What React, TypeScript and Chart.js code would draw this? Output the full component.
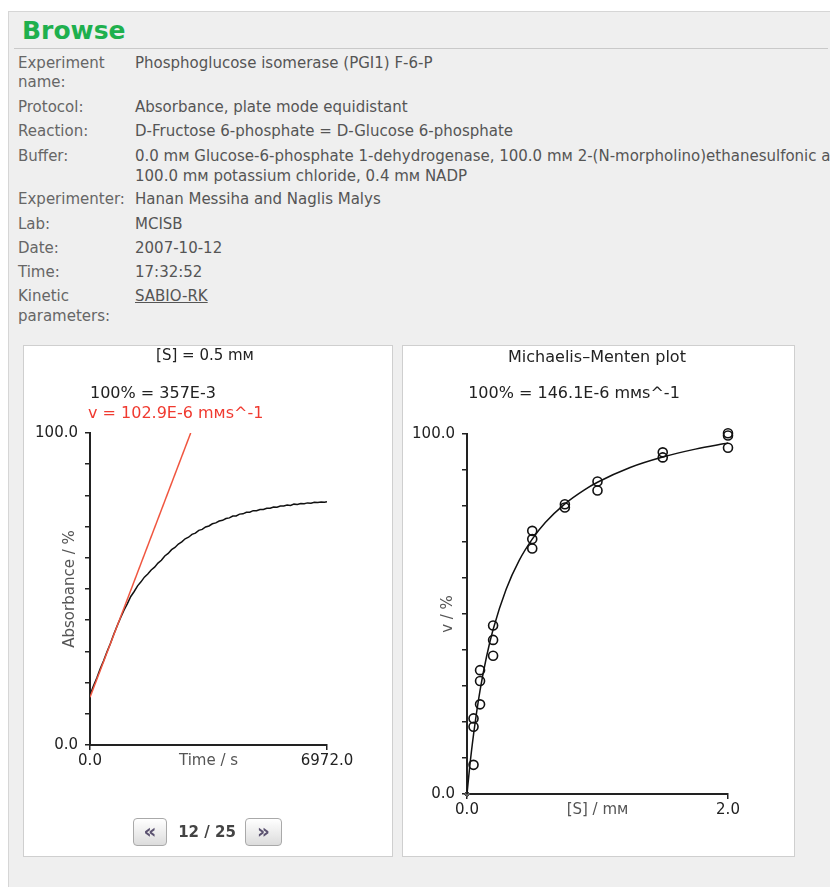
import React, { useEffect, useRef } from "react";
import { Chart, registerables } from "chart.js";

Chart.register(...registerables);

// ---------- data: progress curve (left) ----------
const timeSeconds = [
  0, 100, 200, 300, 400, 500, 600, 700, 800, 900,
  1000, 1100, 1200, 1300, 1400, 1500, 1600, 1700, 1800, 1900,
  2000, 2100, 2200, 2300, 2400, 2500, 2600, 2700, 2800, 2900,
  3000, 3100, 3200, 3300, 3400, 3500, 3600, 3700, 3800, 3900,
  4000, 4100, 4200, 4300, 4400, 4500, 4600, 4700, 4800, 4900,
  5000, 5100, 5200, 5300, 5400, 5500, 5600, 5700, 5800, 5900,
  6000, 6100, 6200, 6300, 6400, 6500, 6600, 6700, 6800, 6900, 6972,
];
const absorbancePct = [
  16.0, 18.9, 21.5, 24.4, 27.0, 29.9, 32.5, 35.5, 38.2, 40.8,
  43.2, 45.3, 47.6, 49.2, 51.0, 52.3, 53.8, 54.8, 56.1, 57.0,
  58.3, 59.2, 60.6, 61.4, 62.6, 63.3, 64.4, 65.1, 66.1, 66.6,
  67.5, 67.9, 68.8, 69.1, 69.9, 70.2, 70.9, 71.2, 71.8, 72.0,
  72.6, 72.8, 73.4, 73.4, 74.0, 74.1, 74.6, 74.6, 75.1, 75.1,
  75.5, 75.5, 75.9, 75.9, 76.3, 76.2, 76.6, 76.6, 76.9, 76.8,
  77.2, 77.1, 77.4, 77.3, 77.6, 77.5, 77.8, 77.7, 77.9, 77.8, 78.0,
];
const tangentTime = [0, 2962];
const tangentPct = [15.3, 100.0];
const progressXTicks = [0, 6972];

// ---------- data: Michaelis-Menten (right) ----------
const substrateMM = [
  0.05, 0.05, 0.05,
  0.1, 0.1, 0.1,
  0.2, 0.2, 0.2,
  0.5, 0.5, 0.5,
  0.75, 0.75,
  1.0, 1.0,
  1.5, 1.5,
  2.0, 2.0, 2.0,
];
const ratePct = [
  8.1, 21.0, 18.7,
  34.4, 31.4, 24.9,
  46.8, 42.8, 38.4,
  73.1, 70.8, 68.2,
  80.5, 79.6,
  86.8, 84.3,
  94.9, 93.5,
  100.2, 99.6, 96.2,
];
const fitS = [0, 0.02, 0.05, 0.1, 0.15, 0.2, 0.3, 0.4, 0.5, 0.6, 0.75, 0.9, 1.0, 1.25, 1.5, 1.75, 2.0];
const fitV = [0, 7.3, 16.5, 28.8, 38.2, 45.7, 56.9, 64.9, 70.8, 75.4, 80.6, 84.5, 86.6, 90.7, 93.6, 95.8, 97.5];
const mmXTicks = [0, 2];
const yLabelledTicks = [0, 100];

const FONT = "'DejaVu Sans', Verdana, sans-serif";

function yAxis(title: string, titlePad: number, width: number) {
  return {
    type: "linear",
    min: 0,
    max: 100,
    ticks: {
      stepSize: 10,
      padding: 7,
      color: "#222",
      font: { size: 15, family: FONT },
      callback: (v: number) => (yLabelledTicks.includes(v) ? v.toFixed(1) : ""),
    },
    grid: { drawOnChartArea: false, drawTicks: true, tickLength: 5, color: "#222", lineWidth: 1.5 },
    border: { display: true, color: "#222", width: 2 },
    title: { display: true, text: title, color: "#555", font: { size: 15, family: FONT }, padding: { top: titlePad, bottom: 0 } },
    afterFit: (s: any) => {
      s.width = width;
    },
  };
}

function xAxis(title: string, min: number, max: number, ticksList: number[]) {
  return {
    type: "linear",
    min,
    max,
    afterBuildTicks: (s: any) => {
      s.ticks = ticksList.map((v) => ({ value: v }));
    },
    ticks: {
      padding: 2,
      color: "#222",
      maxRotation: 0,
      font: { size: 15, family: FONT },
      callback: (v: number) => Number(v).toFixed(1),
    },
    grid: { drawOnChartArea: false, drawTicks: true, tickLength: 5, color: "#222", lineWidth: 1.5 },
    border: { display: true, color: "#222", width: 2 },
    title: { display: true, text: title, color: "#555", font: { size: 15, family: FONT }, padding: { top: 0, bottom: 5 } },
    afterFit: (s: any) => {
      s.height = 30;
    },
  };
}

function ProgressChart() {
  const ref = useRef<HTMLCanvasElement>(null);
  useEffect(() => {
    const chart = new Chart(ref.current as HTMLCanvasElement, {
      type: "scatter",
      data: {
        datasets: [
          {
            data: tangentTime.map((t, i) => ({ x: t, y: tangentPct[i] })),
            showLine: true,
            borderColor: "#f0553f",
            borderWidth: 1.5,
            pointRadius: 0,
          },
          {
            data: timeSeconds.map((t, i) => ({ x: t, y: absorbancePct[i] })),
            showLine: true,
            borderColor: "#111",
            borderWidth: 1.5,
            pointRadius: 0,
          },
        ],
      },
      options: {
        responsive: false,
        animation: false,
        layout: { padding: { left: 0, right: 66, top: 88, bottom: 82 } },
        plugins: { legend: { display: false }, tooltip: { enabled: false }, title: { display: false } },
        scales: {
          x: xAxis("Time / s", 0, 6972, progressXTicks),
          y: yAxis("Absorbance / %", 38, 67),
        },
      } as any,
    });
    return () => chart.destroy();
  }, []);
  return <canvas ref={ref} width={370} height={512} style={{ position: "absolute", left: 23, top: 345 }} />;
}

function MMChart() {
  const ref = useRef<HTMLCanvasElement>(null);
  useEffect(() => {
    const chart = new Chart(ref.current as HTMLCanvasElement, {
      type: "scatter",
      data: {
        datasets: [
          {
            data: fitS.map((s, i) => ({ x: s, y: fitV[i] })),
            showLine: true,
            borderColor: "#111",
            borderWidth: 1.5,
            pointRadius: 0,
            cubicInterpolationMode: "monotone",
          },
          {
            data: substrateMM.map((s, i) => ({ x: s, y: ratePct[i] })),
            showLine: false,
            pointStyle: "circle",
            pointRadius: 4.5,
            pointBorderWidth: 1.6,
            pointBorderColor: "#111",
            pointBackgroundColor: "rgba(0,0,0,0)",
          },
          {
            data: [{ x: 0, y: 0 }],
            showLine: false,
            pointStyle: "rectRot",
            pointRadius: 3,
            pointBorderWidth: 1,
            pointBorderColor: "#444",
            pointBackgroundColor: "#666",
          },
        ],
      },
      options: {
        responsive: false,
        animation: false,
        clip: false,
        layout: { padding: { left: 0, right: 67, top: 89, bottom: 33 } },
        plugins: { legend: { display: false }, tooltip: { enabled: false }, title: { display: false } },
        scales: {
          x: xAxis("[S] / mᴍ", 0, 2, mmXTicks),
          y: yAxis("v / %", 37, 65),
        },
      } as any,
    });
    return () => chart.destroy();
  }, []);
  return <canvas ref={ref} width={393} height={512} style={{ position: "absolute", left: 402, top: 345 }} />;
}

const rowLabel: React.CSSProperties = { position: "absolute", left: 18, color: "#666", fontSize: 15, lineHeight: "20px", whiteSpace: "nowrap" };
const rowValue: React.CSSProperties = { position: "absolute", left: 135, color: "#555", fontSize: 15, lineHeight: "20px", whiteSpace: "nowrap" };

function Line({ y, x, text, style }: { y: number; x?: number; text: React.ReactNode; style: React.CSSProperties }) {
  return <div style={{ ...style, top: y - 10, ...(x !== undefined ? { left: x } : {}) }}>{text}</div>;
}

const btn: React.CSSProperties = {
  position: "absolute",
  top: 818,
  height: 28,
  border: "1px solid #a9a9a9",
  borderRadius: 4,
  background: "linear-gradient(#ffffff, #dcdcdc)",
  color: "#5b5270",
  fontWeight: "bold",
  fontSize: 20,
  lineHeight: "25px",
  textAlign: "center",
  boxSizing: "border-box",
};

export default function App() {
  return (
    <div style={{ position: "absolute", left: 0, top: 0, width: 830, height: 887, overflow: "hidden", background: "#fff", fontFamily: FONT }}>
      <div style={{ position: "absolute", left: 8, top: 11, width: 830, height: 880, background: "#efefef", borderTop: "1px solid #d6d6d6", borderLeft: "1px solid #d6d6d6" }} />
      <div style={{ position: "absolute", left: 22, top: 15, fontSize: 25, fontWeight: "bold", color: "#1fb04e", lineHeight: "32px" }}>Browse</div>
      <div style={{ position: "absolute", left: 14, top: 48, width: 814, height: 1, background: "#c9c9c9" }} />

      <Line y={63} text="Experiment" style={rowLabel} />
      <Line y={82} text="name:" style={rowLabel} />
      <Line y={63} text="Phosphoglucose isomerase (PGI1) F-6-P" style={rowValue} />
      <Line y={107} text="Protocol:" style={rowLabel} />
      <Line y={107} text="Absorbance, plate mode equidistant" style={rowValue} />
      <Line y={131} text="Reaction:" style={rowLabel} />
      <Line y={131} text="D-Fructose 6-phosphate = D-Glucose 6-phosphate" style={rowValue} />
      <Line y={156} text="Buffer:" style={rowLabel} />
      <Line y={156} text="0.0 mᴍ Glucose-6-phosphate 1-dehydrogenase, 100.0 mᴍ 2-(N-morpholino)ethanesulfonic acid," style={rowValue} />
      <Line y={176} text="100.0 mᴍ potassium chloride, 0.4 mᴍ NADP" style={rowValue} />
      <Line y={199} text="Experimenter:" style={rowLabel} />
      <Line y={199} text="Hanan Messiha and Naglis Malys" style={rowValue} />
      <Line y={224} text="Lab:" style={rowLabel} />
      <Line y={224} text="MCISB" style={rowValue} />
      <Line y={248} text="Date:" style={rowLabel} />
      <Line y={248} text="2007-10-12" style={rowValue} />
      <Line y={272} text="Time:" style={rowLabel} />
      <Line y={272} text="17:32:52" style={rowValue} />
      <Line y={296} text="Kinetic" style={rowLabel} />
      <Line y={316} text="parameters:" style={rowLabel} />
      <Line y={296} text={<span style={{ textDecoration: "underline" }}>SABIO-RK</span>} style={rowValue} />

      <div style={{ position: "absolute", left: 23, top: 345, width: 370, height: 512, background: "#fff", border: "1px solid #cfcfcf", boxSizing: "border-box" }} />
      <div style={{ position: "absolute", left: 402, top: 345, width: 393, height: 512, background: "#fff", border: "1px solid #cfcfcf", boxSizing: "border-box" }} />

      <ProgressChart />
      <MMChart />

      <div style={{ position: "absolute", left: 85, width: 240, top: 345, textAlign: "center", fontSize: 15, lineHeight: "20px", color: "#222" }}>[S] = 0.5 mᴍ</div>
      <div style={{ position: "absolute", left: 90, top: 383, fontSize: 16, lineHeight: "20px", color: "#222", whiteSpace: "nowrap" }}>100% = 357E-3</div>
      <div style={{ position: "absolute", left: 88, top: 403, fontSize: 16, lineHeight: "20px", color: "#f03a30", whiteSpace: "nowrap" }}>v = 102.9E-6 mᴍs^-1</div>

      <div style={{ position: "absolute", left: 447, width: 300, top: 347, textAlign: "center", fontSize: 16, lineHeight: "20px", color: "#222" }}>Michaelis–Menten plot</div>
      <div style={{ position: "absolute", left: 424, width: 300, top: 383, textAlign: "center", fontSize: 16, lineHeight: "20px", color: "#222", whiteSpace: "nowrap" }}>100% = 146.1E-6 mᴍs^-1</div>

      <div style={{ ...btn, left: 133, width: 34 }}>«</div>
      <div style={{ position: "absolute", left: 172, width: 70, top: 821, textAlign: "center", fontSize: 15, fontWeight: "bold", lineHeight: "22px", color: "#444" }}>12 / 25</div>
      <div style={{ ...btn, left: 245, width: 37 }}>»</div>
    </div>
  );
}
